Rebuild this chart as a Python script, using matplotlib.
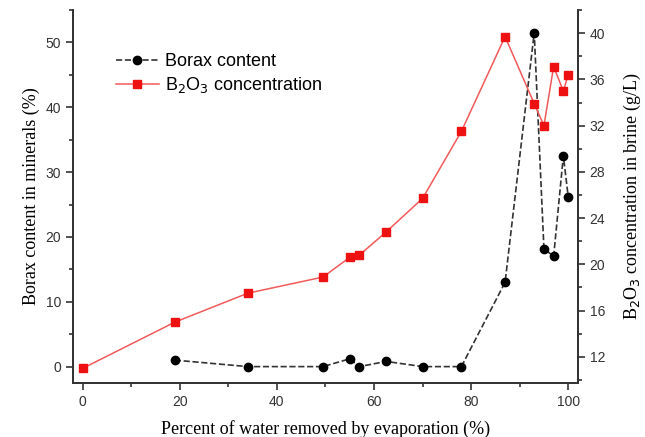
import matplotlib.pyplot as plt
from matplotlib.ticker import MultipleLocator

# percent of water removed
water = [0, 19, 34, 49.5, 55, 57, 62.5, 70, 78, 87, 93, 95, 97, 99, 100]
borax_x = water[1:]
borax = [1.0, 0.0, 0.0, 1.2, 0.0, 0.8, 0.0, 0.0, 13.0, 51.5, 18.2, 17.0, 32.5, 26.2]
b2o3 = [11.0, 15.0, 17.5, 18.9, 20.6, 20.8, 22.8, 25.7, 31.5, 39.7, 33.9, 32.0, 37.1, 35.0, 36.4]

plt.rcParams['font.family'] = ['Liberation Sans', 'DejaVu Sans']
serif = {'family': 'Liberation Serif', 'size': 13}

fig = plt.figure(figsize=(6.45, 4.37), dpi=100)
ax = fig.add_axes([0.113, 0.124, 0.783, 0.853])
ax2 = ax.twinx()

l1, = ax.plot(borax_x, borax, '--', color='#333333', lw=1.2, marker='o', ms=6,
              mfc='black', mec='black', label='Borax content')
l2, = ax2.plot(water, b2o3, '-', color='#f25a5a', lw=1.1, marker='s', ms=5.5,
               mfc='#ee1111', mec='#ee1111', label='B$_2$O$_3$ concentration')

ax.set_xlim(-2, 102)
ax.set_ylim(-2.5, 55)
ax2.set_ylim(9.75, 42)

ax.xaxis.set_major_locator(MultipleLocator(20))
ax.xaxis.set_minor_locator(MultipleLocator(10))
ax.yaxis.set_major_locator(MultipleLocator(10))
ax.yaxis.set_minor_locator(MultipleLocator(5))
ax2.yaxis.set_major_locator(MultipleLocator(4))
ax2.yaxis.set_minor_locator(MultipleLocator(2))

for a in (ax, ax2):
    a.spines['top'].set_visible(False)
    for s in a.spines.values():
        s.set_linewidth(1.3)
        s.set_color('#333333')
    a.tick_params(which='both', direction='out', colors='#333333', labelsize=10, width=1.2)
    a.tick_params(which='major', length=5)
    a.tick_params(which='minor', length=3)

ax.set_xlabel('Percent of water removed by evaporation (%)', fontdict=serif, labelpad=8)
ax.set_ylabel('Borax content in minerals (%)', fontdict=serif)
ax2.set_ylabel('B$_2$O$_3$ concentration in brine (g/L)', fontdict=serif, labelpad=12)

ax.legend([l1, l2], ['Borax content', 'B$_2$O$_3$ concentration'], loc='upper left',
          bbox_to_anchor=(0.085, 0.885), frameon=False, fontsize=13, handlelength=2.4,
          handletextpad=0.35, labelspacing=0.3, borderpad=0, borderaxespad=0)

fig.savefig('out.png', dpi=100)
